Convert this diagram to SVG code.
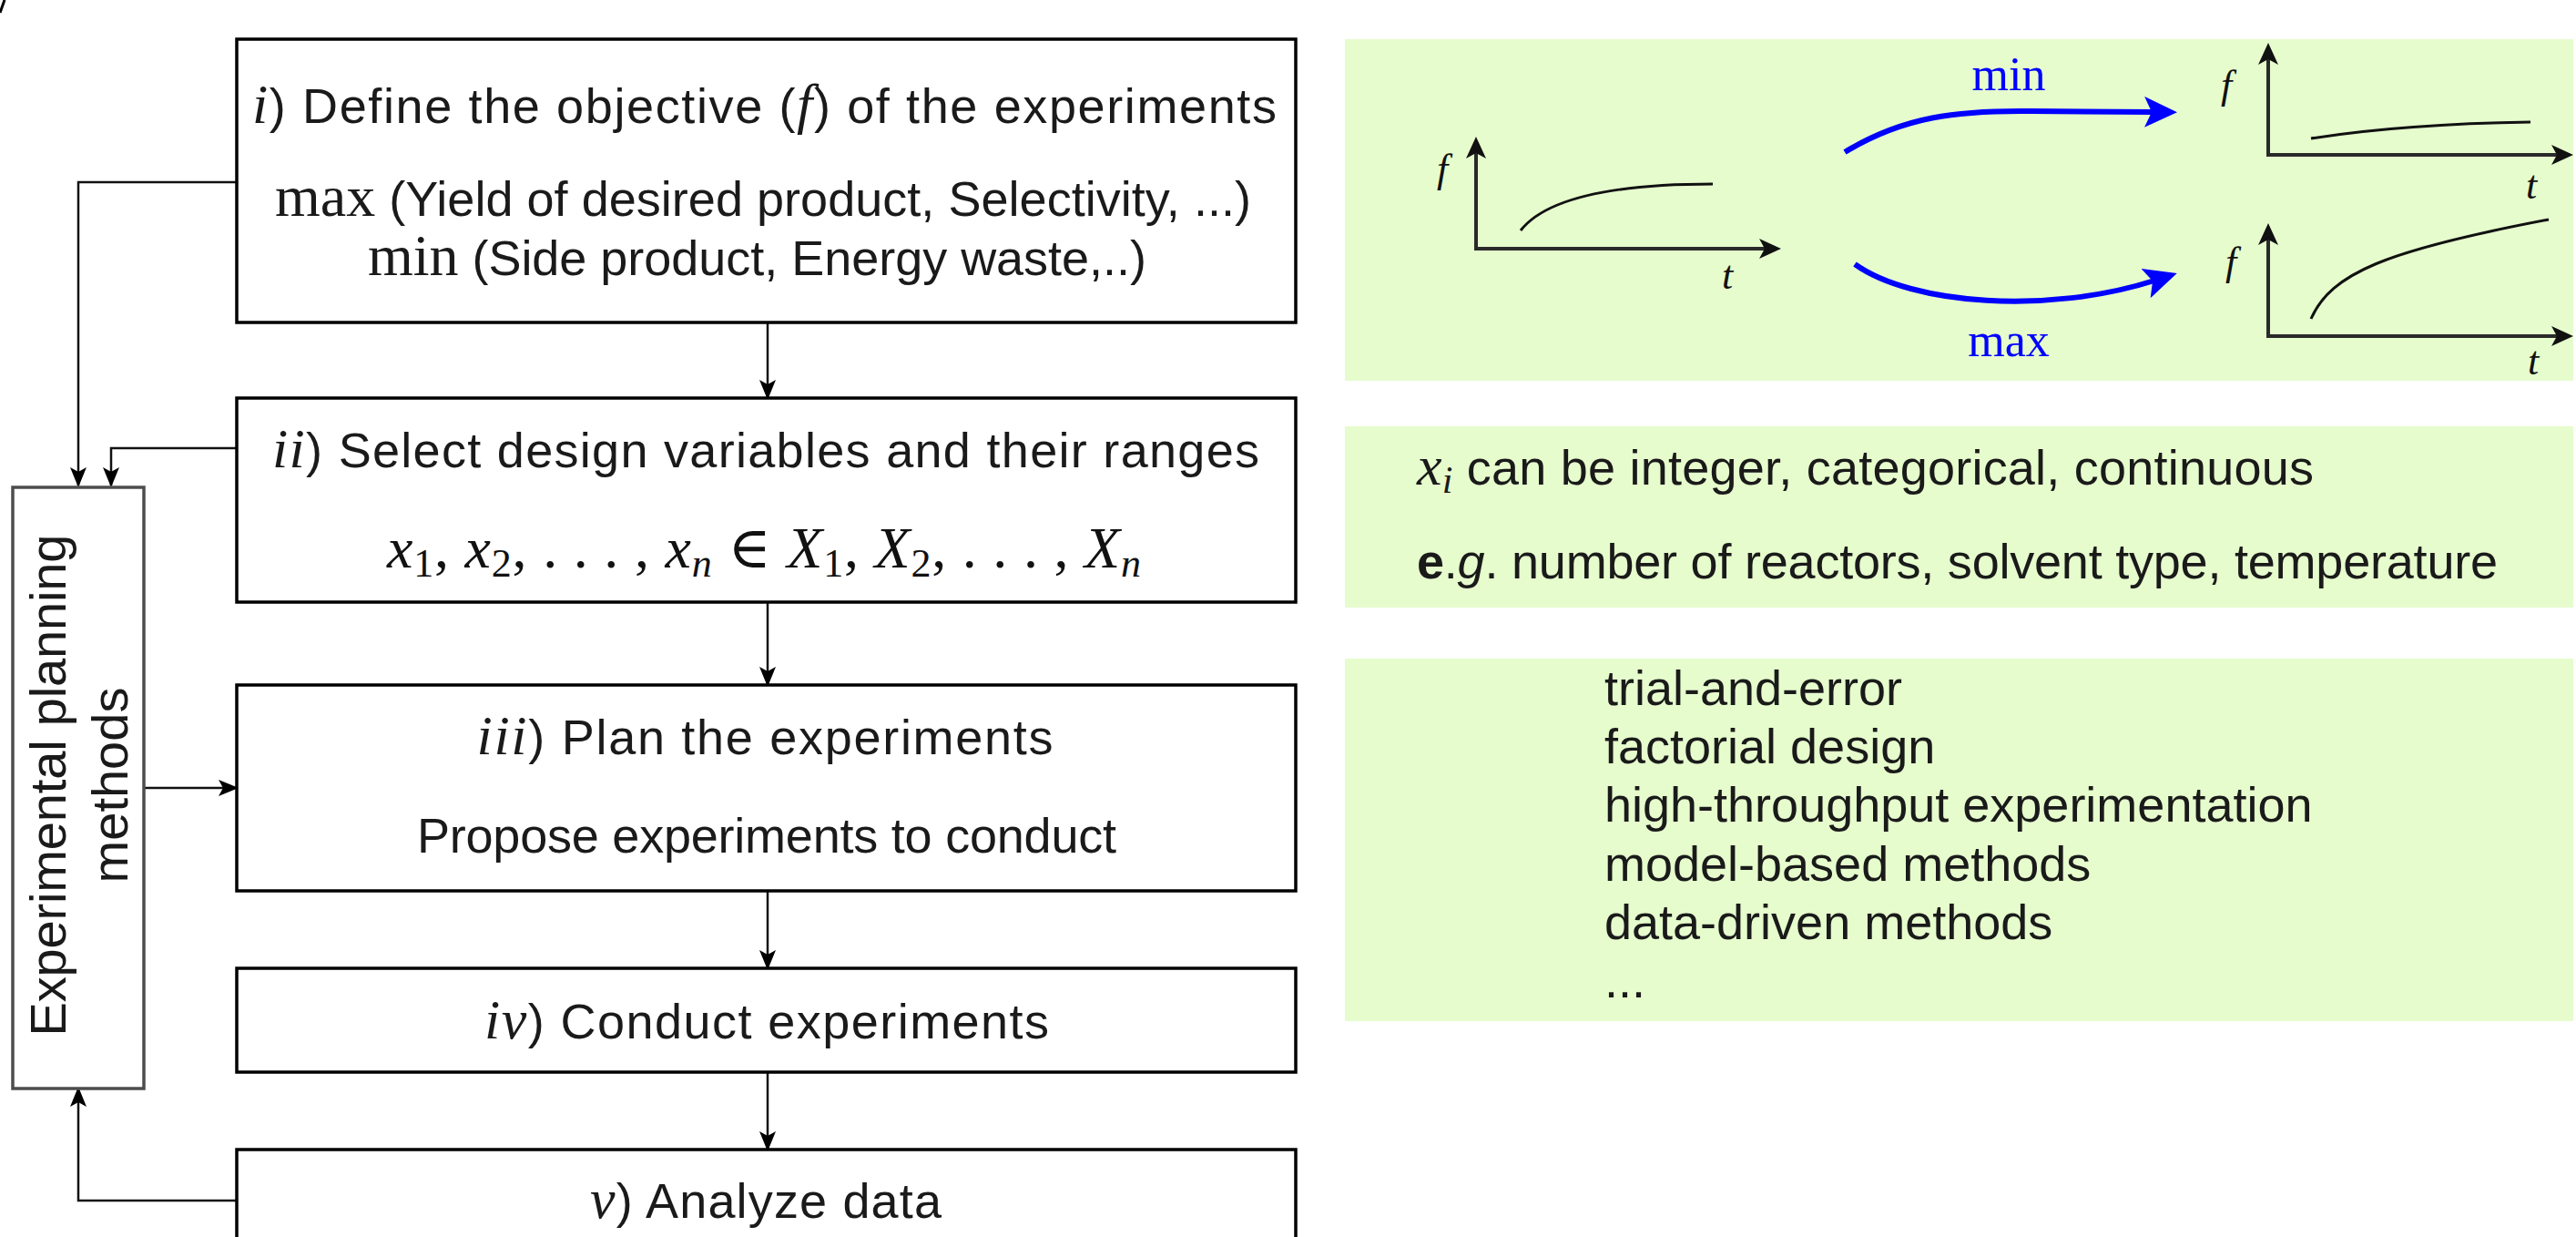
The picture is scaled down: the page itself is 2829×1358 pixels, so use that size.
<svg xmlns="http://www.w3.org/2000/svg" width="2829" height="1358" viewBox="0 0 2829 1358">
<style>
.box{fill:#fff;stroke:#000;stroke-width:3.5}
.side{fill:#fff;stroke:#4d4d4d;stroke-width:3.5}
.panel{fill:#e6fccd;stroke:none}
.t{font-family:"Liberation Sans",Arial,sans-serif;font-size:54px;fill:#1a1a1a}
.m{font-family:"Liberation Serif","DejaVu Serif",serif;font-style:italic}
.r{font-family:"Liberation Serif","DejaVu Serif",serif;font-style:normal}
.conn{fill:none;stroke:#111;stroke-width:2.5}
.axis{fill:none;stroke:#2a2a2a;stroke-width:4}
.curve{fill:none;stroke:#111;stroke-width:3}
.blue{fill:none;stroke:#0000ff;stroke-width:6}
.lbl{font-family:"Liberation Serif","DejaVu Serif",serif;font-style:italic;font-size:44px;fill:#111}
.bl{font-family:"Liberation Serif","DejaVu Serif",serif;font-size:52px;fill:#0000ff}
</style>
<defs>
<marker id="ah" markerUnits="userSpaceOnUse" markerWidth="22" markerHeight="18" refX="20" refY="9" orient="auto"><path d="M0,0 L22,9 L0,18 L5,9 z" fill="#000"/></marker>
<marker id="ax" markerUnits="userSpaceOnUse" markerWidth="24" markerHeight="22" refX="6" refY="11" orient="auto"><path d="M0,0 L24,11 L0,22 L6,11 z" fill="#111"/></marker>
<marker id="bh" markerUnits="userSpaceOnUse" markerWidth="36" markerHeight="36" refX="10" refY="17" orient="auto"><path d="M0,0 L36,17 L0,34 L8,17 z" fill="#0000ff"/></marker>
</defs>
<rect width="2829" height="1358" fill="#fff"/>
<path d="M0,14 L5,0" stroke="#000" stroke-width="3" fill="none"/>

<g id="connectors">
<path class="conn" d="M843,354 V437" marker-end="url(#ah)"/>
<path class="conn" d="M843,661 V752" marker-end="url(#ah)"/>
<path class="conn" d="M843,978 V1063" marker-end="url(#ah)"/>
<path class="conn" d="M843,1177 V1262" marker-end="url(#ah)"/>
<path class="conn" d="M260,200 H86 V533" marker-end="url(#ah)"/>
<path class="conn" d="M260,492 H122 V533" marker-end="url(#ah)"/>
<path class="conn" d="M158,865 H260" marker-end="url(#ah)"/>
<path class="conn" d="M260,1318 H86 V1195" marker-end="url(#ah)"/>
</g>

<g id="step-i">
<rect class="box" x="260" y="43" width="1163" height="311"/>
<text class="t" x="839.5" y="135" text-anchor="middle" textLength="1125" lengthAdjust="spacing"><tspan class="m" font-size="62">i</tspan>) Define the objective (<tspan class="m" font-size="62">f</tspan>) of the experiments</text>
<text class="t" x="838" y="237" text-anchor="middle" textLength="1072" lengthAdjust="spacing"><tspan class="r" font-size="64">max</tspan> (Yield of desired product, Selectivity, ...)</text>
<text class="t" x="831.5" y="302" text-anchor="middle" textLength="855" lengthAdjust="spacing"><tspan class="r" font-size="64">min</tspan> (Side product, Energy waste,..)</text>
</g>

<g id="step-ii">
<rect class="box" x="260" y="437" width="1163" height="224"/>
<text class="t" x="841" y="513" text-anchor="middle" textLength="1084" lengthAdjust="spacing"><tspan class="m" font-size="62">ii</tspan>) Select design variables and their ranges</text>
<text class="r" x="839" y="623" text-anchor="middle" font-size="64" fill="#111" textLength="828" lengthAdjust="spacing"><tspan class="m">x</tspan><tspan font-size="44" dy="10">1</tspan><tspan dy="-10">, </tspan><tspan class="m">x</tspan><tspan font-size="44" dy="10">2</tspan><tspan dy="-10">, . . . , </tspan><tspan class="m">x</tspan><tspan class="m" font-size="44" dy="10">n</tspan><tspan dy="-10"> ∈ </tspan><tspan class="m">X</tspan><tspan font-size="44" dy="10">1</tspan><tspan dy="-10">, </tspan><tspan class="m">X</tspan><tspan font-size="44" dy="10">2</tspan><tspan dy="-10">, . . . , </tspan><tspan class="m">X</tspan><tspan class="m" font-size="44" dy="10">n</tspan></text>
</g>

<g id="step-iii">
<rect class="box" x="260" y="752" width="1163" height="226"/>
<text class="t" x="840" y="828" text-anchor="middle" textLength="633" lengthAdjust="spacing"><tspan class="m" font-size="62">iii</tspan>) Plan the experiments</text>
<text class="t" x="842" y="936" text-anchor="middle" textLength="768" lengthAdjust="spacing">Propose experiments to conduct</text>
</g>

<g id="step-iv">
<rect class="box" x="260" y="1063" width="1163" height="114"/>
<text class="t" x="842" y="1140" text-anchor="middle" textLength="620" lengthAdjust="spacing"><tspan class="m" font-size="62">iv</tspan>) Conduct experiments</text>
</g>

<g id="step-v">
<rect class="box" x="260" y="1262" width="1163" height="160"/>
<text class="t" x="841" y="1337" text-anchor="middle" textLength="386" lengthAdjust="spacing"><tspan class="m" font-size="62">v</tspan>) Analyze data</text>
</g>

<g id="planning-methods">
<rect class="side" x="14" y="535" width="144" height="660"/>
<text class="t" transform="rotate(-90)" x="-862" y="72" text-anchor="middle" style="font-size:56px" textLength="551" lengthAdjust="spacing">Experimental planning</text>
<text class="t" transform="rotate(-90)" x="-862" y="140" text-anchor="middle" style="font-size:56px">methods</text>
</g>

<g id="objective-panel">
<rect class="panel" x="1477" y="43" width="1349" height="375"/>
<path class="axis" d="M1621,273 V168" marker-end="url(#ax)"/>
<path class="axis" d="M1619,273 H1938" marker-end="url(#ax)"/>
<path class="curve" d="M1670,253 Q1710,202 1881,202"/>
<text class="lbl" x="1584" y="200" text-anchor="middle">f</text>
<text class="lbl" x="1897" y="317" text-anchor="middle">t</text>

<path class="axis" d="M2491,170 V65" marker-end="url(#ax)"/>
<path class="axis" d="M2489,170 H2808" marker-end="url(#ax)"/>
<path class="curve" d="M2538,152 Q2640,136 2779,134"/>
<text class="lbl" x="2445" y="108" text-anchor="middle">f</text>
<text class="lbl" x="2780" y="218" text-anchor="middle">t</text>

<path class="axis" d="M2491,369 V263" marker-end="url(#ax)"/>
<path class="axis" d="M2489,369 H2808" marker-end="url(#ax)"/>
<path class="curve" d="M2538,350 C2560,300 2620,275 2799,241"/>
<text class="lbl" x="2450" y="302" text-anchor="middle">f</text>
<text class="lbl" x="2782" y="411" text-anchor="middle">t</text>

<path class="blue" d="M2026,167 C2090,128 2150,121 2230,122 L2365,123" marker-end="url(#bh)"/>
<path class="blue" d="M2037,290 C2100,335 2250,345 2366,308" marker-end="url(#bh)"/>
<text class="bl" x="2206" y="99" text-anchor="middle">min</text>
<text class="bl" x="2206" y="391" text-anchor="middle">max</text>
</g>

<g id="variables-panel">
<rect class="panel" x="1477" y="468" width="1349" height="199"/>
<text class="t" x="1556" y="532" textLength="985" lengthAdjust="spacing"><tspan class="m" font-size="62">x</tspan><tspan class="m" font-size="42" dy="9">i</tspan><tspan dy="-9"> can be integer, categorical, continuous</tspan></text>
<text class="t" x="1556" y="635" textLength="1187" lengthAdjust="spacing"><tspan font-weight="bold">e</tspan>.<tspan font-style="italic">g</tspan>. number of reactors, solvent type, temperature</text>
</g>

<g id="methods-panel">
<rect class="panel" x="1477" y="723" width="1349" height="398"/>
<text class="t" x="1762" y="774">trial-and-error</text>
<text class="t" x="1762" y="838">factorial design</text>
<text class="t" x="1762" y="902">high-throughput experimentation</text>
<text class="t" x="1762" y="967">model-based methods</text>
<text class="t" x="1762" y="1031">data-driven methods</text>
<text class="t" x="1762" y="1095">...</text>
</g>
</svg>
